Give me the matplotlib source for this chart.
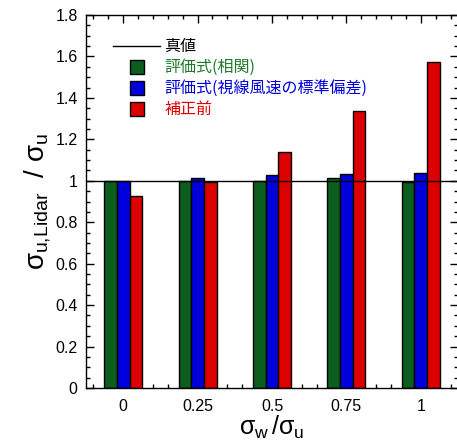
import matplotlib
matplotlib.use("Agg")
import matplotlib.pyplot as plt
from matplotlib.ticker import MultipleLocator, FixedLocator, FixedFormatter

plt.rcParams['font.family'] = ['Liberation Sans', 'DejaVu Sans']
plt.rcParams['mathtext.fontset'] = 'custom'
plt.rcParams['mathtext.rm'] = 'Liberation Sans'
plt.rcParams['mathtext.it'] = 'Liberation Sans'

ratios = [0.0, 0.25, 0.5, 0.75, 1.0]
tick_labels = ['0', '0.25', '0.5', '0.75', '1']
y_ticks = [0, 0.2, 0.4, 0.6, 0.8, 1.0, 1.2, 1.4, 1.6, 1.8]
y_tick_labels = ['0', '0.2', '0.4', '0.6', '0.8', '1', '1.2', '1.4', '1.6', '1.8']
eval_corr = [1.00, 1.00, 1.00, 1.012, 0.993]
eval_std = [1.00, 1.012, 1.026, 1.034, 1.036]
before = [0.927, 0.993, 1.137, 1.335, 1.575]
true_value = 1.0

true_label = '真値'
labels = ['評価式(相関)', '評価式(視線風速の標準偏差)', '補正前']
colors = ['#0b5e1e', '#0000dd', '#dd0000']
text_colors = ['#1e7a2a', '#0000dd', '#dd0000']

fig = plt.figure(figsize=(4.57, 4.46), dpi=100)
ax = fig.add_axes([86/457, 58/446, 372/457, 373/446])

w = 0.0425
for i, (vals, c) in enumerate(zip([eval_corr, eval_std, before], colors)):
    xs = [r + (i - 1) * w for r in ratios]
    ax.bar(xs, vals, width=w, color=c, edgecolor='black', linewidth=1.0, zorder=2)

ax.axhline(true_value, color='black', linewidth=1.0, zorder=3)

ax.set_xlim(-0.125, 1.125)
ax.set_ylim(0, 1.8)
ax.xaxis.set_major_locator(FixedLocator(ratios))
ax.xaxis.set_major_formatter(FixedFormatter(tick_labels))
ax.xaxis.set_minor_locator(MultipleLocator(0.05))
ax.yaxis.set_major_locator(FixedLocator(y_ticks))
ax.yaxis.set_major_formatter(FixedFormatter(y_tick_labels))
ax.yaxis.set_minor_locator(MultipleLocator(0.05))

ax.tick_params(which='both', direction='in', top=True, right=True, labelsize=11.5, colors='black')
ax.tick_params(which='major', length=6, width=1)
ax.tick_params(which='minor', length=3, width=1)
ax.tick_params(axis='x', pad=8)
ax.tick_params(axis='y', pad=6)
for s in ax.spines.values():
    s.set_linewidth(1.0)

ax.set_xlabel(r'$\sigma_{\mathrm{w}}\,/\sigma_{\mathrm{u}}$', fontsize=18, labelpad=0)
ax.set_ylabel(r'$\sigma_{\mathrm{u{,}Lidar}}\ \ /\ \sigma_{\mathrm{u}}$', fontsize=20, labelpad=2)

# legend drawn manually in axes coordinates
cjk = ['Noto Sans CJK JP', 'DejaVu Sans']
ax.plot([0.0726, 0.199], [0.917, 0.917], color='black', linewidth=1.0,
        transform=ax.transAxes, clip_on=False, zorder=4)
ax.text(0.210, 0.917, true_label, transform=ax.transAxes, va='center', ha='left',
        fontsize=11.5, family=cjk, color='black')
for lab, c, tc, yy in zip(labels, colors, text_colors, [0.861, 0.804, 0.748]):
    ax.plot([0.137], [yy], linestyle='none', marker='s', markersize=10.5,
            markerfacecolor=c, markeredgecolor='black', markeredgewidth=1.0,
            transform=ax.transAxes, clip_on=False, zorder=4)
    ax.text(0.210, yy, lab, transform=ax.transAxes, va='center', ha='left',
            fontsize=11.5, family=cjk, color=tc)

fig.savefig('out.png', dpi=100)
